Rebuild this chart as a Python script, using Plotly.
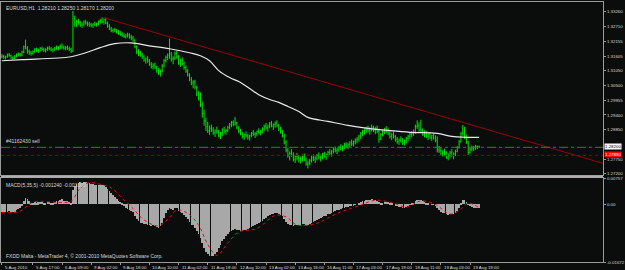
import plotly.graph_objects as go

# ---------------- data ----------------
open0 = 1.3158
highs = [
    1.3168,1.3165,1.3162,1.3170,1.3172,1.3166,1.3160,1.3164,1.3170,1.3174,1.3172,1.3180,
    1.3200,1.3222,1.3198,
    1.3185,1.3180,1.3182,1.3190,1.3192,1.3188,1.3194,1.3196,1.3192,1.3190,1.3196,1.3198,1.3194,1.3190,1.3195,1.3200,1.3198,1.3204,1.3208,1.3200,1.3198,1.3200,1.3196,
    1.3192,1.3330,1.3312,
    1.3296,1.3300,1.3292,1.3286,1.3294,1.3296,1.3290,1.3288,1.3285,1.3284,1.3290,1.3286,1.3294,
    1.3300,1.3305,1.3302,1.3304,1.3290,
    1.3280,1.3270,1.3264,1.3266,1.3262,1.3258,1.3254,
    1.3250,1.3246,1.3244,1.3248,1.3246,1.3240,1.3236,
    1.3224,1.3200,1.3186,1.3180,
    1.3172,1.3164,1.3156,1.3160,1.3150,1.3138,1.3134,1.3136,1.3124,1.3116,1.3110,1.3130,
    1.3150,1.3162,1.3170,1.3226,1.3176,
    1.3160,1.3178,1.3180,1.3164,1.3150,1.3156,1.3140,
    1.3126,1.3112,1.3096,1.3082,1.3070,1.3072,1.3050,1.3030,
    1.3024,1.2990,1.2960,1.2930,1.2914,1.2900,
    1.2904,1.2894,1.2886,1.2896,1.2884,1.2876,1.2890,1.2896,1.2888,1.2900,
    1.2910,1.2918,1.2920,1.2932,1.2914,1.2898,
    1.2888,1.2876,1.2870,1.2878,1.2870,1.2866,1.2876,1.2884,1.2876,1.2882,1.2890,1.2884,1.2894,
    1.2904,1.2910,1.2902,1.2914,1.2918,1.2908,1.2916,1.2920,1.2906,1.2896,1.2884,
    1.2870,1.2846,1.2816,1.2804,1.2812,1.2800,1.2790,1.2798,
    1.2790,1.2784,1.2792,1.2796,1.2780,1.2768,1.2776,1.2788,1.2792,1.2786,1.2794,1.2800,1.2792,
    1.2798,1.2802,1.2796,1.2806,1.2812,1.2808,1.2818,1.2822,1.2816,1.2824,1.2830,1.2826,1.2836,1.2838,1.2834,1.2842,1.2848,1.2844,1.2852,1.2858,
    1.2866,1.2876,1.2884,1.2890,1.2896,1.2900,1.2894,1.2904,1.2900,1.2896,1.2900,1.2888,1.2872,1.2884,1.2892,1.2898,1.2890,1.2880,1.2872,1.2878,
    1.2866,1.2858,1.2852,1.2860,1.2854,1.2848,1.2858,1.2866,1.2874,1.2880,1.2886,
    1.2904,1.2920,1.2912,1.2922,1.2890,
    1.2882,1.2880,1.2872,1.2876,1.2866,1.2872,1.2864,1.2860,1.2824,
    1.2818,1.2808,1.2814,1.2804,1.2796,1.2806,1.2812,1.2800,1.2810,1.2824,
    1.2846,1.2876,1.2902,1.2896,1.2866,
    1.2842,1.2818,1.2826,1.2824,1.2828,1.2826,1.2825,
]
lows = [
    1.3152,1.3150,1.3148,1.3154,1.3158,1.3150,1.3146,1.3150,1.3156,1.3160,1.3158,1.3160,
    1.3172,1.3185,1.3170,
    1.3165,1.3162,1.3166,1.3172,1.3176,1.3172,1.3178,1.3180,1.3176,1.3174,1.3180,1.3182,1.3178,1.3174,1.3180,1.3184,1.3182,1.3186,1.3188,1.3184,1.3182,1.3184,1.3180,
    1.3172,1.3176,1.3270,
    1.3270,1.3278,1.3270,1.3266,1.3274,1.3278,1.3272,1.3270,1.3268,1.3266,1.3272,1.3270,1.3276,
    1.3282,1.3284,1.3278,1.3280,1.3266,
    1.3258,1.3250,1.3248,1.3250,1.3244,1.3240,1.3236,
    1.3232,1.3228,1.3226,1.3230,1.3226,1.3220,1.3214,
    1.3190,1.3168,1.3160,1.3158,
    1.3150,1.3140,1.3132,1.3136,1.3124,1.3114,1.3110,1.3112,1.3098,1.3090,1.3084,1.3100,
    1.3118,1.3136,1.3146,1.3150,1.3140,
    1.3130,1.3146,1.3150,1.3128,1.3120,1.3126,1.3110,
    1.3098,1.3084,1.3066,1.3052,1.3040,1.3036,1.3010,1.2994,
    1.2970,1.2930,1.2900,1.2880,1.2872,1.2866,
    1.2876,1.2866,1.2858,1.2870,1.2856,1.2850,1.2862,1.2870,1.2866,1.2876,
    1.2886,1.2894,1.2898,1.2900,1.2886,1.2872,
    1.2864,1.2852,1.2846,1.2856,1.2848,1.2844,1.2856,1.2862,1.2854,1.2860,1.2868,1.2864,1.2872,
    1.2880,1.2886,1.2878,1.2890,1.2894,1.2884,1.2892,1.2894,1.2880,1.2870,1.2856,
    1.2830,1.2800,1.2780,1.2770,1.2784,1.2766,1.2760,1.2770,
    1.2762,1.2758,1.2766,1.2768,1.2750,1.2740,1.2752,1.2762,1.2768,1.2760,1.2770,1.2774,1.2766,
    1.2774,1.2780,1.2772,1.2784,1.2790,1.2784,1.2796,1.2800,1.2794,1.2802,1.2808,1.2804,1.2812,1.2816,1.2812,1.2820,1.2824,1.2822,1.2830,1.2834,
    1.2840,1.2850,1.2860,1.2866,1.2872,1.2874,1.2866,1.2878,1.2876,1.2868,1.2872,1.2836,1.2846,1.2860,1.2868,1.2872,1.2864,1.2852,1.2846,1.2852,
    1.2840,1.2832,1.2828,1.2836,1.2828,1.2826,1.2834,1.2842,1.2850,1.2856,1.2862,
    1.2870,1.2888,1.2876,1.2874,1.2862,
    1.2856,1.2854,1.2846,1.2850,1.2842,1.2848,1.2838,1.2800,1.2798,
    1.2790,1.2784,1.2788,1.2776,1.2770,1.2780,1.2784,1.2774,1.2786,1.2800,
    1.2814,1.2836,1.2862,1.2850,1.2832,
    1.2790,1.2796,1.2804,1.2806,1.2810,1.2812,1.2817,
]
closes = [
    1.3160,1.3156,1.3158,1.3165,1.3162,1.3154,1.3152,1.3160,1.3166,1.3168,1.3164,1.3176,
    1.3195,1.3190,1.3178,
    1.3172,1.3170,1.3178,1.3185,1.3180,1.3184,1.3188,1.3186,1.3182,1.3186,1.3190,1.3188,1.3184,1.3186,1.3191,1.3192,1.3190,1.3198,1.3194,1.3190,1.3192,1.3188,1.3186,
    1.3180,1.3300,1.3284,
    1.3290,1.3286,1.3276,1.3280,1.3288,1.3284,1.3280,1.3278,1.3276,1.3280,1.3278,1.3282,1.3290,
    1.3292,1.3288,1.3296,1.3284,1.3272,
    1.3262,1.3256,1.3258,1.3254,1.3250,1.3246,1.3242,
    1.3238,1.3234,1.3236,1.3240,1.3232,1.3228,1.3220,
    1.3196,1.3176,1.3172,1.3166,
    1.3158,1.3146,1.3150,1.3142,1.3130,1.3122,1.3126,1.3118,1.3106,1.3100,1.3104,1.3124,
    1.3144,1.3156,1.3164,1.3168,1.3150,
    1.3152,1.3170,1.3158,1.3136,1.3144,1.3132,1.3118,
    1.3104,1.3090,1.3074,1.3060,1.3064,1.3044,1.3018,1.3004,
    1.2980,1.2946,1.2918,1.2896,1.2880,1.2890,
    1.2884,1.2874,1.2880,1.2876,1.2864,1.2870,1.2884,1.2878,1.2882,1.2894,
    1.2904,1.2912,1.2906,1.2910,1.2892,1.2880,
    1.2870,1.2860,1.2866,1.2862,1.2858,1.2864,1.2872,1.2868,1.2870,1.2878,1.2874,1.2880,1.2888,
    1.2896,1.2892,1.2900,1.2906,1.2898,1.2904,1.2910,1.2900,1.2888,1.2876,1.2862,
    1.2838,1.2808,1.2790,1.2796,1.2790,1.2774,1.2784,1.2778,
    1.2770,1.2776,1.2786,1.2772,1.2756,1.2760,1.2770,1.2780,1.2774,1.2778,1.2788,1.2782,1.2786,
    1.2790,1.2784,1.2792,1.2800,1.2796,1.2804,1.2812,1.2806,1.2810,1.2818,1.2814,1.2822,1.2828,1.2824,1.2830,1.2836,1.2832,1.2840,1.2846,1.2850,
    1.2860,1.2870,1.2876,1.2882,1.2886,1.2880,1.2888,1.2892,1.2884,1.2890,1.2878,1.2850,1.2866,1.2878,1.2884,1.2880,1.2870,1.2860,1.2866,1.2858,
    1.2848,1.2840,1.2846,1.2842,1.2834,1.2844,1.2852,1.2860,1.2868,1.2872,1.2878,
    1.2896,1.2900,1.2884,1.2880,1.2868,
    1.2874,1.2860,1.2866,1.2856,1.2862,1.2854,1.2846,1.2810,1.2806,
    1.2796,1.2800,1.2792,1.2782,1.2790,1.2798,1.2788,1.2794,1.2804,1.2818,
    1.2840,1.2870,1.2880,1.2858,1.2838,
    1.2800,1.2812,1.2816,1.2818,1.2822,1.2821,1.2820,
]
opens = [open0] + closes[:-1]

macd_main = [
    -0.0022,-0.0023,-0.0024,-0.0022,-0.0020,-0.0022,-0.0024,-0.0022,-0.0018,-0.0014,-0.0012,-0.0006,
    0.0008,0.0018,0.0016,
    0.0008,0.0004,0.0003,0.0005,0.0004,0.0005,0.0006,0.0006,0.0004,0.0004,0.0006,0.0006,0.0004,0.0004,0.0006,0.0008,0.0008,0.0012,0.0014,0.0010,0.0009,0.0008,0.0006,
    0.0004,0.0040,0.0052,
    0.0058,0.0062,0.0063,0.0062,0.0063,0.0064,0.0062,0.0060,0.0058,0.0057,0.0055,0.0054,0.0055,
    0.0056,0.0056,0.0054,0.0050,0.0044,
    0.0038,0.0032,0.0026,0.0020,0.0016,0.0010,0.0006,
    0.0002,-0.0004,-0.0010,-0.0014,-0.0016,-0.0020,-0.0024,
    -0.0034,-0.0044,-0.0050,-0.0054,
    -0.0056,-0.0058,-0.0058,-0.0060,-0.0062,-0.0064,-0.0062,-0.0064,-0.0066,-0.0068,-0.0064,-0.0054,
    -0.0040,-0.0026,-0.0016,-0.0012,-0.0014,
    -0.0016,-0.0012,-0.0012,-0.0020,-0.0022,-0.0026,-0.0032,
    -0.0038,-0.0044,-0.0052,-0.0060,-0.0062,-0.0068,-0.0078,-0.0088,
    -0.0098,-0.0114,-0.0128,-0.0138,-0.0146,-0.0150,
    -0.0152,-0.0150,-0.0146,-0.0138,-0.0128,-0.0118,-0.0108,-0.0100,-0.0094,-0.0088,
    -0.0082,-0.0078,-0.0074,-0.0072,-0.0074,-0.0076,
    -0.0078,-0.0078,-0.0076,-0.0074,-0.0072,-0.0070,-0.0066,-0.0064,-0.0062,-0.0058,-0.0056,-0.0052,-0.0048,
    -0.0044,-0.0040,-0.0036,-0.0032,-0.0030,-0.0028,-0.0026,-0.0026,-0.0028,-0.0032,-0.0036,
    -0.0044,-0.0052,-0.0058,-0.0060,-0.0062,-0.0064,-0.0062,-0.0062,
    -0.0062,-0.0060,-0.0058,-0.0058,-0.0060,-0.0060,-0.0058,-0.0054,-0.0052,-0.0050,-0.0046,-0.0044,-0.0040,
    -0.0038,-0.0036,-0.0034,-0.0030,-0.0028,-0.0026,-0.0022,-0.0020,-0.0018,-0.0016,-0.0014,-0.0012,-0.0010,-0.0009,-0.0008,-0.0006,-0.0006,-0.0004,-0.0002,0.0000,
    0.0002,0.0005,0.0008,0.0010,0.0012,0.0012,0.0013,0.0014,0.0013,0.0012,0.0010,0.0006,0.0004,0.0004,0.0006,0.0007,0.0006,0.0004,0.0002,0.0000,
    -0.0003,-0.0006,-0.0008,-0.0009,-0.0010,-0.0010,-0.0008,-0.0005,-0.0002,0.0001,0.0004,
    0.0008,0.0012,0.0012,0.0012,0.0008,
    0.0006,0.0004,0.0002,0.0000,-0.0001,-0.0002,-0.0004,-0.0012,-0.0018,
    -0.0022,-0.0025,-0.0027,-0.0030,-0.0031,-0.0030,-0.0030,-0.0029,-0.0026,-0.0020,
    -0.0012,0.0002,0.0012,0.0012,0.0006,
    -0.0002,-0.0006,-0.0008,-0.0010,-0.0011,-0.0012,-0.0012,
]

signal_idx = [0,10,14,18,30,38,42,47,55,60,66,72,78,86,92,96,102,108,113,118,124,130,140,150,156,162,172,185,196,205,215,222,230,238,246,252,256,262]
signal_val = [-0.0024,-0.0020,-0.0004,0.0008,0.0006,0.0009,0.0040,0.0062,0.0057,0.0048,0.0018,-0.0012,-0.0045,-0.0062,-0.0038,-0.0016,-0.0026,-0.0060,-0.0116,-0.0148,-0.0112,-0.0080,-0.0070,-0.0032,-0.0036,-0.0060,-0.0056,-0.0024,-0.0004,0.0012,0.0004,-0.0008,0.0010,0.0000,-0.0028,-0.0014,0.0004,-0.0010]

ma_idx = [0,11,38,46,54,62,71,81,92,103,109,114,119,125,130,136,141,147,152,157,163,168,179,190,201,212,224,239,247,262]
ma_val = [1.3143,1.3147,1.3158,1.3173,1.3192,1.3207,1.3210,1.3199,1.3188,1.3173,1.3162,1.3143,1.3106,1.3080,1.3065,1.3039,1.3016,1.2998,1.2987,1.2972,1.2953,1.2931,1.2916,1.2901,1.2890,1.2882,1.2875,1.2871,1.2860,1.2856]

trend_idx = [56, 330]
trend_val = [1.3304, 1.2759]

order_price = 1.2819
tp_price = 1.2789
bid_price = 1.2820

price_ticks = [1.3326,1.3271,1.32155,1.31605,1.3105,1.3050,1.29955,1.2940,1.2885,1.2772,1.2720]
price_tick_text = ["1.33260","1.32710","1.32155","1.31605","1.31050","1.30500","1.29955","1.29400","1.28850","1.27750","1.27200"]
macd_ticks = [0.00757, 0.0, -0.01672]
macd_tick_text = ["0.00757", "0.00", "-0.01672"]

time_idx = [0,17,33,49,65,81,97,113,129,145,161,177,193,209,225,241,257]
time_labels = ["5 Aug 2010","5 Aug 17:00","6 Aug 09:00","9 Aug 02:00","9 Aug 18:00","10 Aug 10:00",
               "11 Aug 02:00","11 Aug 18:00","12 Aug 10:00","13 Aug 02:00","13 Aug 18:00",
               "16 Aug 11:00","17 Aug 03:00","17 Aug 19:00","18 Aug 11:00","19 Aug 03:00","19 Aug 19:00"]

title_text = "EURUSD,H1  1.28210 1.28250 1.28170 1.28200"
macd_title = "MACD(5,35,5) -0.001240 -0.001000"
order_text = "#41162430 sell"
footer_text = "FXDD Malta - MetaTrader 4, © 2001-2010 MetaQuotes Software Corp."

# ---------------- figure ----------------
BG = "#0b0d0c"
GRID = "#9a9a9a"
TXT = "#d8d8d8"
FONT = "Liberation Sans"
FS = 5
FS_T = 4.4

n = len(closes)
xs = list(range(n))

fig = go.Figure()
fig.add_trace(go.Ohlc(x=xs, open=opens, high=highs, low=lows, close=closes,
                      increasing=dict(line=dict(color="#00e600", width=1)),
                      decreasing=dict(line=dict(color="#00e600", width=1)),
                      tickwidth=0.35, xaxis="x2", yaxis="y", hoverinfo="skip"))
fig.add_trace(go.Scatter(x=ma_idx, y=ma_val, mode="lines", line=dict(color="#e8e8e8", width=1.2, shape="spline"),
                         xaxis="x2", yaxis="y", hoverinfo="skip"))
fig.add_trace(go.Scatter(x=trend_idx, y=trend_val, mode="lines", line=dict(color="#9c0000", width=1),
                         xaxis="x2", yaxis="y", hoverinfo="skip"))

fig.add_trace(go.Bar(x=xs, y=macd_main, marker=dict(color="#a8a8a8", line=dict(width=0)), width=0.38,
                     xaxis="x", yaxis="y2", hoverinfo="skip"))
fig.add_trace(go.Scatter(x=signal_idx, y=signal_val, mode="lines",
                         line=dict(color="#e01010", width=1, dash="dot", shape="spline"),
                         xaxis="x", yaxis="y2", hoverinfo="skip"))

xr = [-0.5, 330]
main_dom = [0.3333, 1.0]
macd_dom = [0.0, 0.3218]

axis_common = dict(showgrid=False, zeroline=False, showline=True, linecolor=GRID, linewidth=1, mirror=True)

fig.update_layout(
    width=625, height=270,
    margin=dict(l=0, r=17, t=1, b=8),
    paper_bgcolor=BG, plot_bgcolor=BG,
    showlegend=False, bargap=0,
    font=dict(family=FONT, size=FS, color=TXT),
    xaxis=dict(range=xr, domain=[0, 1], anchor="y2", tickvals=time_idx, ticktext=[""]*len(time_idx),
               ticks="outside", ticklen=2, tickcolor=GRID, rangeslider=dict(visible=False), **axis_common),
    xaxis2=dict(range=xr, domain=[0, 1], anchor="y", matches="x", showticklabels=False, ticks="",
                rangeslider=dict(visible=False), **axis_common),
    yaxis=dict(range=[1.2714, 1.3363], domain=main_dom, side="right", anchor="x2",
               tickvals=price_ticks, ticktext=price_tick_text, ticks="outside", ticklen=2, tickcolor=GRID,
               tickfont=dict(size=FS_T, color=TXT, family=FONT), **axis_common),
    yaxis2=dict(range=[-0.01672, 0.00757], domain=macd_dom, side="right", anchor="x",
                tickvals=macd_ticks, ticktext=macd_tick_text, ticks="outside", ticklen=2, tickcolor=GRID,
                tickfont=dict(size=FS_T, color=TXT, family=FONT), **axis_common),
)

shapes = [
    dict(type="line", xref="x2", yref="y", x0=xr[0], x1=xr[1], y0=order_price, y1=order_price,
         line=dict(color="#00a000", width=1, dash="dashdot")),
    dict(type="line", xref="x2", yref="y", x0=xr[0], x1=xr[1], y0=tp_price, y1=tp_price,
         line=dict(color="#9c0000", width=1, dash="dot")),
    dict(type="line", xref="paper", yref="paper", x0=0, x1=1, y0=0.3276, y1=0.3276,
         line=dict(color="#b0b0b0", width=2)),
]
fig.update_layout(shapes=shapes)

ann = [
    dict(text=title_text, xref="paper", yref="paper", x=0.005, y=0.995, xanchor="left", yanchor="top",
         showarrow=False, font=dict(size=FS, color=TXT, family=FONT)),
    dict(text=order_text, xref="x2", yref="y", x=1, y=order_price, xanchor="left", yanchor="bottom",
         yshift=1, showarrow=False, font=dict(size=FS, color=TXT, family=FONT)),
    dict(text=macd_title, xref="paper", yref="paper", x=0.005, y=macd_dom[1] - 0.006, xanchor="left", yanchor="top",
         showarrow=False, font=dict(size=FS, color=TXT, family=FONT)),
    dict(text=footer_text, xref="paper", yref="paper", x=0.005, y=0.005, xanchor="left", yanchor="bottom",
         showarrow=False, font=dict(size=FS, color=TXT, family=FONT)),
    dict(text=f"{bid_price:.5f}", xref="paper", yref="y", x=1.0, y=bid_price, xanchor="left", yanchor="middle",
         xshift=1, yshift=1, showarrow=False, bgcolor="#ffffff", borderpad=0,
         font=dict(size=FS_T, color="#000000", family=FONT)),
    dict(text=f"{tp_price:.5f}", xref="paper", yref="y", x=1.0, y=tp_price, xanchor="left", yanchor="middle",
         xshift=1, yshift=1, showarrow=False, bgcolor="#ff0000", borderpad=0,
         font=dict(size=FS_T, color="#ffffff", family=FONT)),
]
for i, lab in zip(time_idx, time_labels):
    ann.append(dict(text=lab, xref="x", yref="paper", x=i, y=0, xanchor="left", yanchor="top",
                    xshift=1, yshift=-1, showarrow=False, font=dict(size=FS_T, color=TXT, family=FONT)))
fig.update_layout(annotations=ann)

fig.write_html("out.html")
